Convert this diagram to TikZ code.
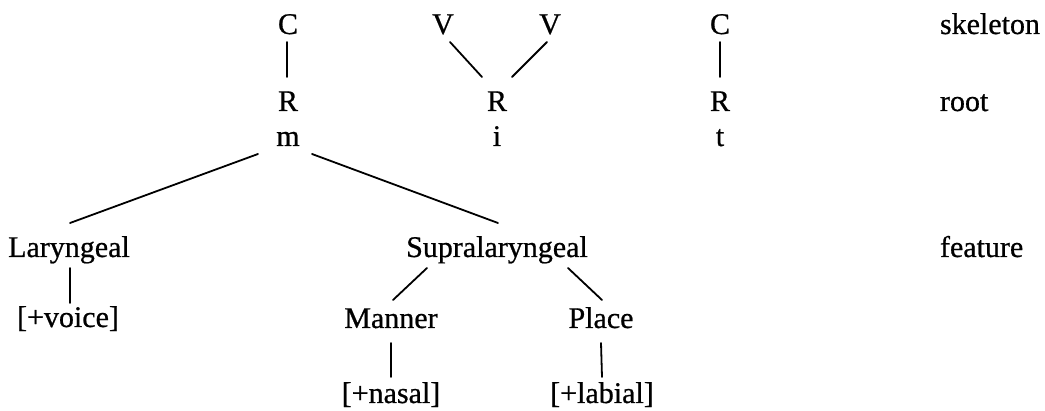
\documentclass[tikz,border=0pt]{standalone}
\usepackage{fontspec}
\setmainfont{Liberation Serif}[FakeBold=0.7]
\usetikzlibrary{calc}
\tikzset{
  lab/.style={inner sep=0pt, outer sep=0pt, anchor=base, font=\fontsize{30}{35}\selectfont},
  tierlab/.style={lab, anchor=base west},
  branch/.style={line width=1.8pt, line cap=round}
}
\begin{document}
\begin{tikzpicture}[x=1pt,y=-1pt]
\useasboundingbox (0,0) rectangle (1045,411);
% skeleton row
\node[lab] (C1) at (288,34) {C};
\node[lab] (V1) at (443,34) {V};
\node[lab] (V2) at (550,34) {V};
\node[lab] (C2) at (720,34) {C};
\node[tierlab] (skel) at (940,34) {skeleton};
% root row
\node[lab] (R1) at (288,111) {R};
\node[lab] (R2) at (497,111) {R};
\node[lab] (R3) at (720,111) {R};
\node[tierlab] (root) at (940,111) {root};
\node[lab] (m) at (288,146) {m};
\node[lab] (i) at (497,146) {i};
\node[lab] (t) at (720,146) {t};
% feature rows
\node[lab] (Lar) at (69,257) {Laryngeal};
\node[lab] (Supra) at (497,257) {Supralaryngeal};
\node[tierlab] (feat) at (940,257) {feature};
\node[lab] (voice) at (68,327) {[+voice]};
\node[lab] (Man) at (391,328) {Manner};
\node[lab] (Pl) at (601,328) {Place};
\node[lab] (nas) at (391,403) {[+nasal]};
\node[lab] (lab) at (602,403) {[+labial]};
% connectors
\draw[branch] ($(C1.base)+(-1,8)$) -- ($(R1.base)+(-1,-34)$);
\draw[branch] ($(C2.base)+(0,8)$) -- ($(R3.base)+(0,-34)$);
\draw[branch] ($(V1.base)+(7,8)$) -- ($(R2.base)+(-15,-34)$);
\draw[branch] ($(V2.base)+(-3,8)$) -- ($(R2.base)+(15,-34)$);
\draw[branch] ($(m.base)+(-30,8)$) -- ($(Lar.base)+(1,-34)$);
\draw[branch] ($(m.base)+(24,8)$) -- ($(Supra.base)+(1,-34)$);
\draw[branch] ($(Lar.base)+(1,11)$) -- ($(voice.base)+(2,-24)$);
\draw[branch] ($(Supra.base)+(-70,11)$) -- ($(Man.base)+(2,-28)$);
\draw[branch] ($(Supra.base)+(71,11)$) -- ($(Pl.base)+(1,-28)$);
\draw[branch] ($(Man.base)+(0,15)$) -- ($(nas.base)+(0,-26)$);
\draw[branch] ($(Pl.base)+(0,15)$) -- ($(lab.base)+(0,-26)$);
\end{tikzpicture}
\end{document}
